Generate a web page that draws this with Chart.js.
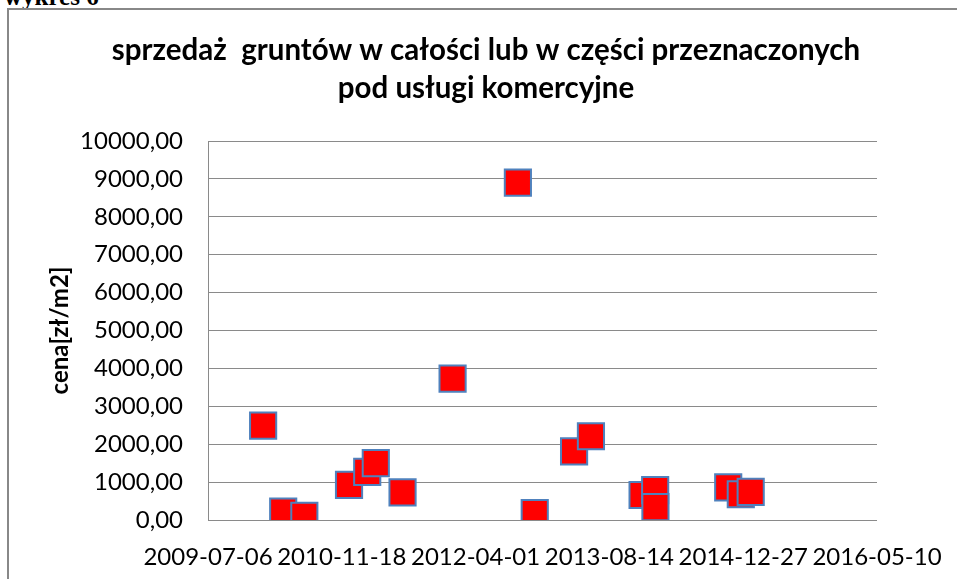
<!DOCTYPE html>
<html>
<head>
<meta charset="utf-8">
<script src="https://cdn.jsdelivr.net/npm/chart.js@4.4.1/dist/chart.umd.min.js"></script>
<style>
  html, body { margin: 0; padding: 0; background: #fff; overflow: hidden; }
  body { width: 957px; height: 579px; position: relative; }
  #hdr { position: absolute; left: 4px; top: -16px; font: bold 25px "Liberation Serif", "Times New Roman", serif; color: #000; line-height: 25px; white-space: nowrap; }
  #frame { position: absolute; left: 7px; top: 8px; width: 1000px; height: 700px; border-left: 2px solid #888; border-top: 2px solid #888; }
  #c { position: absolute; left: 9px; top: 10px; }
</style>
</head>
<body>
<div id="hdr">wykres 6</div>
<div id="frame"></div>
<canvas id="c" width="948" height="569"></canvas>
<script>
// --- data ---
const chartTitle = ['sprzedaż  gruntów w całości lub w części przeznaczonych', 'pod usługi komercyjne'];
const yAxisTitle = 'cena[zł/m2]';
const saleDates = [
  '2010-01-28', '2010-04-13', '2010-07-01', '2010-12-15', '2011-02-21', '2011-03-25',
  '2011-07-03', '2012-01-06', '2012-09-06', '2012-11-08', '2013-04-04', '2013-06-06',
  '2013-12-16', '2014-02-01', '2014-02-02', '2014-11-01', '2014-12-18', '2015-01-24'
];
const pricePerM2 = [
  2490, 220, 110, 925, 1270, 1500,
  730, 3730, 8900, 180, 1810, 2210,
  660, 790, 340, 860, 680, 740
];
const xAxisStart = '2009-07-06';
const xAxisEnd = '2016-05-10';
const xStepDays = 500;
const yMin = 0, yMax = 10000, yStep = 1000;

const DAY = 86400000;
const points = saleDates.map((d, i) => ({ x: Date.parse(d), y: pricePerM2[i] }));
const fontFam = 'Lato, "Open Sans", sans-serif';
const gridCol = '#8a8a8a';

new Chart(document.getElementById('c'), {
  type: 'scatter',
  data: {
    datasets: [{
      data: points,
      pointStyle: 'rect',
      pointRadius: 18.5,
      pointHoverRadius: 18.5,
      backgroundColor: '#ff0000',
      borderColor: '#4f81bd',
      borderWidth: 2,
      pointHoverBorderWidth: 2
    }]
  },
  options: {
    responsive: false,
    animation: false,
    events: [],
    layout: { padding: { left: 6, right: 0, top: 0, bottom: 0 } },
    plugins: {
      legend: { display: false },
      tooltip: { enabled: false },
      title: {
        display: true,
        text: chartTitle,
        color: '#000',
        font: { family: fontFam, size: 29.5, weight: 'bold', lineHeight: 38 / 29.5 },
        padding: { top: 21, bottom: 34 }
      }
    },
    scales: {
      x: {
        type: 'linear',
        min: Date.parse(xAxisStart),
        max: Date.parse(xAxisEnd),
        afterFit: s => { s.height = 59; s.paddingRight = 80; s.paddingLeft = 0; },
        grid: { display: false, drawTicks: true, tickLength: 11 },
        border: { display: false },
        ticks: {
          stepSize: xStepDays * DAY,
          autoSkip: false,
          maxRotation: 0,
          padding: 12,
          color: '#000',
          font: { family: fontFam, size: 24 },
          callback: v => new Date(v).toISOString().slice(0, 10)
        }
      },
      y: {
        min: yMin,
        max: yMax,
        afterFit: s => { s.width = 193; },
        grid: { color: gridCol, lineWidth: 1, drawTicks: false },
        border: { display: true, color: gridCol, width: 1 },
        title: {
          display: true,
          text: yAxisTitle,
          color: '#000',
          font: { family: fontFam, size: 24, weight: 'bold', lineHeight: 1.2 },
          padding: { top: 30.6, bottom: 0 }
        },
        ticks: {
          stepSize: yStep,
          padding: 25,
          color: '#000',
          font: { family: fontFam, size: 24 },
          callback: v => v.toFixed(2).replace('.', ',')
        }
      }
    }
  }
});
</script>
</body>
</html>
